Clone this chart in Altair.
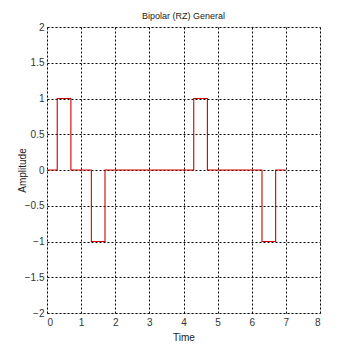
import altair as alt
import pandas as pd

bits = [1, -1, 0, 0, 1, 0, -1]
pulse_start = 0.3
pulse_end = 0.7
x_ticks = [0, 1, 2, 3, 4, 5, 6, 7, 8]
y_ticks = [-2, -1.5, -1, -0.5, 0, 0.5, 1, 1.5, 2]

rows = []
k = 0
for i, b in enumerate(bits):
    for t, v in [(i, 0), (i + pulse_start, 0), (i + pulse_start, b),
                 (i + pulse_end, b), (i + pulse_end, 0), (i + 1, 0)]:
        rows.append({"t": t, "v": v, "o": k})
        k += 1
df = pd.DataFrame(rows)

chart = alt.Chart(df).mark_line(color="#d00000", strokeWidth=1.1, clip=True).encode(
    x=alt.X("t:Q", scale=alt.Scale(domain=[0, 8], nice=False),
            axis=alt.Axis(values=x_ticks, title="Time", format="d", grid=True,
                          gridColor="black", gridDash=[2, 2], gridOpacity=1, gridWidth=1,
                          domain=False, ticks=False, labelPadding=4,
                          labelFont="Liberation Sans", labelFontSize=10, labelColor="#333",
                          titleFont="Liberation Sans", titleFontSize=10, titleFontWeight="normal",
                          titleColor="#222", titlePadding=5)),
    y=alt.Y("v:Q", scale=alt.Scale(domain=[-2, 2], nice=False),
            axis=alt.Axis(values=y_ticks, title="Amplitude", format="~g", grid=True,
                          gridColor="black", gridDash=[2, 2], gridOpacity=1, gridWidth=1,
                          domain=False, ticks=False, labelPadding=3,
                          labelFont="Liberation Sans", labelFontSize=10, labelColor="#333",
                          titleFont="Liberation Sans", titleFontSize=10, titleFontWeight="normal",
                          titleColor="#222", titlePadding=-3)),
    order="o:Q",
).properties(
    width=273, height=286,
    title=alt.TitleParams("Bipolar (RZ) General", font="Liberation Sans", fontSize=9,
                          fontWeight="normal", color="#222", offset=1),
    padding={"left": 47, "top": 27, "right": 33, "bottom": 40},
    autosize=alt.AutoSizeParams(type="none"),
).configure_view(stroke="black", strokeWidth=1.2).configure(background="white")

chart.save("out.html", embed_options={"renderer": "svg", "actions": False})
